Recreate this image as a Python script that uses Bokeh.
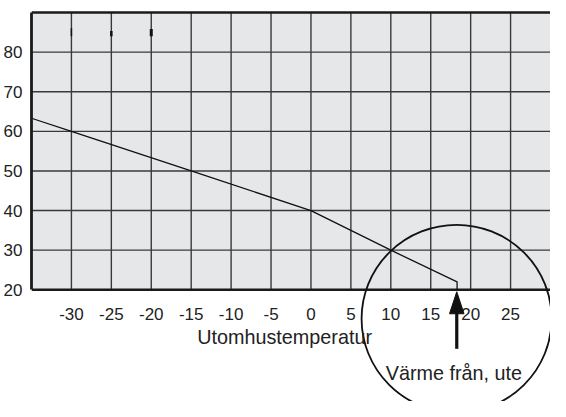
import math
from bokeh.plotting import figure
from bokeh.models import Range1d, FixedTicker, Label
from bokeh.core.properties import value
from bokeh.embed import file_html
from bokeh.resources import INLINE

# ---- data ----
x_ticks = [-30, -25, -20, -15, -10, -5, 0, 5, 10, 15, 20, 25]
y_ticks = [20, 30, 40, 50, 60, 70, 80]
x_min, x_max = -35, 30
y_min, y_max = 20, 90
curve_x = [-35, -30, -15, 0, 10, 18.3, 18.3]
curve_y = [63.3, 60, 50, 40, 30, 22, 20]
mark_x = [-30, -25, -20]
mark_y0 = [84.0, 84.0, 84.0]
mark_y1 = [86.0, 85.3, 85.8]
mark_w = [1.5, 2.5, 3.0]
x_label = "Utomhustemperatur"
x_label_x, x_label_y = -3.3, 8.0
note_text = "Värme från, ute"
note_x, note_y = 17.9, -1.1
circle_cx, circle_cy = 18.24, 12.7
circle_rx, circle_ry = 11.9, 23.7
arrow_x = 18.26
arrow_y0, arrow_tip, arrow_head_base = 5.1, 19.5, 13.95
arrow_head_half = 0.91

FONT = "Liberation Sans"
INK = "#1a1a1a"

p = figure(width=550, height=401, output_backend="svg", toolbar_location=None,
           x_range=Range1d(x_min, x_max), y_range=Range1d(-8.2, 90.5),
           x_axis_location=None,
           min_border_left=29, min_border_right=0, min_border_top=10, min_border_bottom=0)
p.background_fill_color = "white"
p.border_fill_color = "white"
p.outline_line_color = None
p.grid.visible = False

# grey plotting area
p.quad(left=[x_min], right=[x_max], bottom=[y_min], top=[y_max],
       fill_color="#e6e7e8", line_color=None)

# grid lines
p.segment(x0=x_ticks, y0=[y_min] * len(x_ticks), x1=x_ticks, y1=[y_max] * len(x_ticks),
          line_color="#3a3a3a", line_width=1.4)
gy = y_ticks[1:]
p.segment(x0=[x_min] * len(gy), y0=gy, x1=[x_max] * len(gy), y1=gy,
          line_color="#3a3a3a", line_width=1.4)

# frame borders: bottom (x axis line) and top
p.segment(x0=[x_min, x_min], y0=[y_min, y_max], x1=[x_max, x_max], y1=[y_min, y_max],
          line_color=INK, line_width=2.6)

# y axis (real axis, bounded to the grey area)
ax = p.yaxis[0]
ax.ticker = FixedTicker(ticks=y_ticks)
ax.bounds = (y_min, y_max)
ax.major_tick_in = 0
ax.major_tick_out = 0
ax.minor_tick_in = 0
ax.minor_tick_out = 0
ax.axis_line_color = INK
ax.axis_line_width = 2.8
ax.major_label_text_font = FONT
ax.major_label_text_font_size = "17px"
ax.major_label_text_color = "#222222"
ax.major_label_standoff = 9

# x tick labels (plain hyphen minus as in the reference)
p.text(x=x_ticks, y=[y_min] * len(x_ticks), text=[str(t) for t in x_ticks],
       text_font=value(FONT), text_font_size=value("17px"), text_color="#222222",
       text_align="center", text_baseline="alphabetic", y_offset=24.5)

# small marks near the top
p.segment(x0=mark_x, y0=mark_y0, x1=mark_x, y1=mark_y1, line_color="#111111", line_width=mark_w)

# heating curve
p.line(curve_x, curve_y, line_color="#111111", line_width=1.3)

# circle
p.ellipse(x=[circle_cx], y=[circle_cy], width=[2 * circle_rx], height=[2 * circle_ry],
          fill_color=None, line_color="#111111", line_width=1.8)

# arrow
p.segment(x0=[arrow_x], y0=[arrow_y0], x1=[arrow_x], y1=[arrow_head_base + 0.5],
          line_color="#111111", line_width=3.2)
p.patch(x=[arrow_x, arrow_x - arrow_head_half, arrow_x + arrow_head_half],
        y=[arrow_tip, arrow_head_base, arrow_head_base],
        fill_color="#111111", line_color="#111111", line_width=1)

# texts
p.add_layout(Label(x=x_label_x, y=x_label_y, text=x_label, text_align="center",
                   text_baseline="alphabetic", text_font=FONT, text_font_size="19.8px",
                   text_color="#222222"))
p.add_layout(Label(x=note_x, y=note_y, text=note_text, text_align="center",
                   text_baseline="alphabetic", text_font=FONT, text_font_size="19.8px",
                   text_color="#222222"))

open("out.html", "w").write(file_html(p, INLINE))
